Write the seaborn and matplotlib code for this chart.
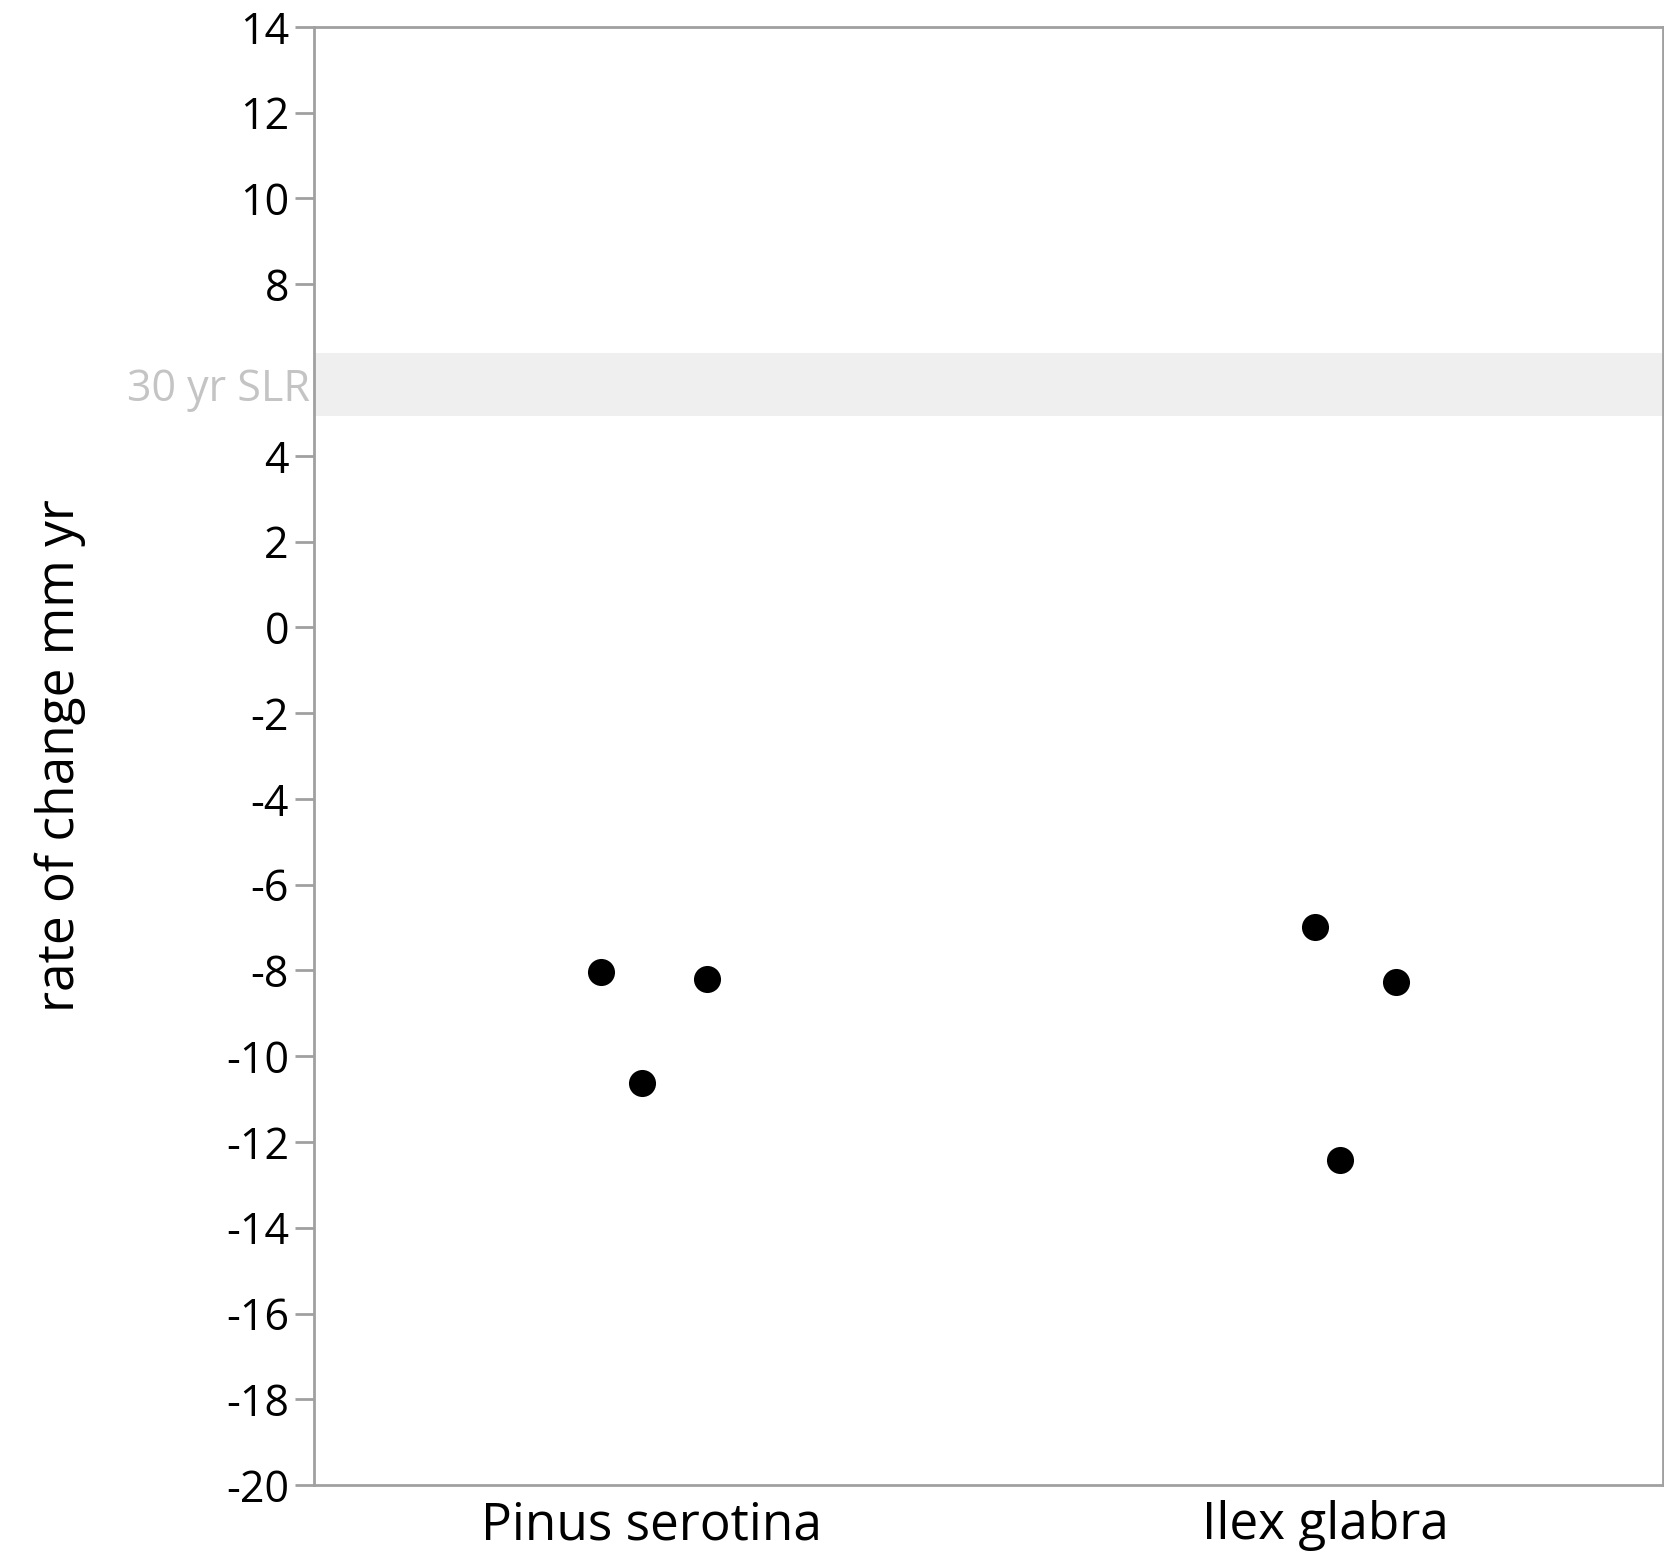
import pandas as pd
import matplotlib
matplotlib.use("Agg")
import matplotlib.pyplot as plt
import matplotlib.transforms as mtransforms
import seaborn as sns

# Data
species = ["Pinus serotina", "Ilex glabra"]
pinus_rates = [-8.03, -8.19, -10.62]
pinus_jitter = [-0.074, 0.082, -0.013]
ilex_rates = [-6.98, -8.26, -12.41]
ilex_jitter = [-0.016, 0.104, 0.021]
slr_band = (4.93, 6.4)
slr_label = "30 yr SLR"
y_ticks = [14, 12, 10, 8, 4, 2, 0, -2, -4, -6, -8, -10, -12, -14, -16, -18, -20]

df = pd.DataFrame({
    "species": [species[0]] * len(pinus_rates) + [species[1]] * len(ilex_rates),
    "rate": pinus_rates + ilex_rates,
    "jitter": pinus_jitter + ilex_jitter,
})
df["pos"] = df["species"].map({s: i for i, s in enumerate(species)}) + df["jitter"]

sns.set_style("white")
plt.rcParams["font.family"] = ["Open Sans", "DejaVu Sans"]

fig = plt.figure(figsize=(16.64, 15.57), dpi=100)
ax = fig.add_axes([0.1887, 0.0462, 0.8107, 0.9365])

# grey band for sea level rise
ax.axhspan(slr_band[0], slr_band[1], color="#efefef", zorder=0, lw=0)

sns.scatterplot(data=df, x="pos", y="rate", color="black", s=380,
                edgecolor="black", linewidth=0, ax=ax, zorder=3)

ax.set_xlim(-0.5, 1.5)
ax.set_ylim(-20, 14)
ax.set_xticks(range(len(species)))
ax.set_xticklabels(species, fontsize=37, color="black")
ax.set_yticks(y_ticks)
ax.set_yticklabels([str(t) for t in y_ticks], fontsize=31, color="black")
ax.tick_params(axis="y", left=True, length=14, width=2, color="#a0a0a0", pad=4)
ax.tick_params(axis="x", bottom=False, length=0, pad=11)

for sp in ax.spines.values():
    sp.set_color("#a0a0a0")
    sp.set_linewidth(2)

trans = mtransforms.blended_transform_factory(ax.transAxes, ax.transData)
ax.text(-0.003, 5.55, slr_label, transform=trans, ha="right",
        va="center", fontsize=31, color="#c4c4c4")

ax.set_xlabel("")
ax.set_ylabel("rate of change mm yr", fontsize=37, color="black", labelpad=101)

fig.savefig("out.png", dpi=100)
